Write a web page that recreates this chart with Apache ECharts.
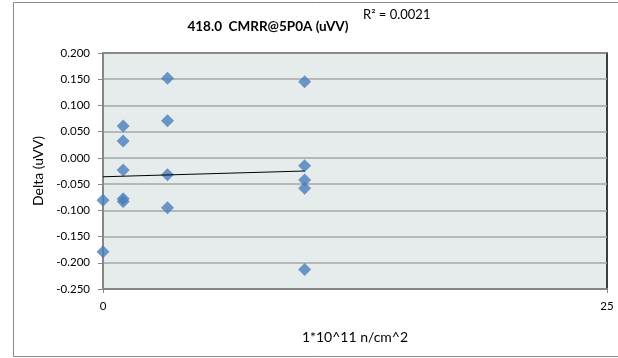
<!DOCTYPE html>
<html>
<head>
<meta charset="utf-8">
<script src="https://cdn.jsdelivr.net/npm/echarts@6/dist/echarts.min.js"></script>
<style>html,body{margin:0;padding:0;background:#fff}#c{width:618px;height:358px}</style>
</head>
<body>
<div id="c"></div>
<script>
const titleText = '418.0  CMRR@5P0A (uVV)';
const r2Text = 'R² = 0.0021';
const xName = '1*10^11 n/cm^2';
const yName = 'Delta (uVV)';
const xValues = [0, 0, 1, 1, 1, 1, 1, 3.2, 3.2, 3.2, 3.2, 10, 10, 10, 10, 10];
const yValues = [-0.081, -0.179, 0.061, 0.032, -0.023, -0.078, -0.083, 0.152, 0.071, -0.032, -0.095, 0.145, -0.015, -0.042, -0.058, -0.213];
const trendX = [0, 10];
const trendY = [-0.036, -0.025];

const font = 'Lato, "Open Sans", sans-serif';
const chart = echarts.init(document.getElementById('c'));
chart.setOption({
  animation: false,
  backgroundColor: '#fff',
  textStyle: { fontFamily: font },
  graphic: [
    { type: 'rect', shape: { x: 13.5, y: 2.5, width: 620, height: 354 }, style: { fill: 'none', stroke: '#8a8a8a', lineWidth: 1 }, z: -10 },
    { type: 'text', style: { text: titleText, x: 268, y: 27, align: 'center', verticalAlign: 'middle', font: 'bold 13.5px ' + font, fill: '#000' } },
    { type: 'text', style: { text: r2Text, x: 363, y: 15, align: 'left', verticalAlign: 'middle', font: '13px ' + font, fill: '#000' } }
  ],
  grid: { left: 103, right: 11, top: 53, bottom: 69, containLabel: false, show: true, backgroundColor: '#e6ecec', borderColor: '#000', borderWidth: 1.5 },
  xAxis: {
    type: 'value', min: 0, max: 25, interval: 25,
    name: xName, nameLocation: 'middle', nameGap: 41,
    nameTextStyle: { fontSize: 14, color: '#000', fontFamily: font },
    axisLine: { show: true, onZero: false, lineStyle: { color: '#868686', width: 2 } },
    axisTick: { show: true, length: 4, lineStyle: { color: '#868686' } },
    axisLabel: { fontSize: 11.5, color: '#000', margin: 11, fontFamily: font },
    splitLine: { show: false }
  },
  yAxis: {
    type: 'value', min: -0.25, max: 0.2, interval: 0.05,
    name: yName, nameLocation: 'middle', nameGap: 56, nameRotate: 90,
    nameTextStyle: { fontSize: 14, color: '#000', fontFamily: font },
    axisLine: { show: true, onZero: false, lineStyle: { color: '#868686', width: 2 } },
    axisTick: { show: true, inside: false, length: 5, lineStyle: { color: '#868686' } },
    axisLabel: { fontSize: 11.5, color: '#000', margin: 13, fontFamily: font, formatter: v => v.toFixed(3) },
    splitLine: { show: true, lineStyle: { color: '#a6a6a6', width: 1.5 } }
  },
  series: [
    {
      type: 'scatter', symbol: 'diamond', symbolSize: 13,
      itemStyle: { color: '#4a7ebb' },
      data: xValues.map((x, i) => [x, yValues[i]]), z: 3
    },
    {
      type: 'line', symbol: 'none', silent: true,
      lineStyle: { color: '#000', width: 1 },
      data: trendX.map((x, i) => [x, trendY[i]]), z: 4
    }
  ]
});
</script>
</body>
</html>
